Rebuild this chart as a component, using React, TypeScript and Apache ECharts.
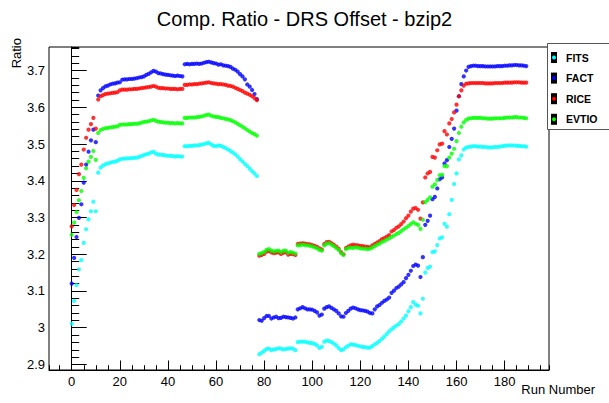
import React, { useEffect, useRef } from "react";
import * as echarts from "echarts";

const runs: number[] = Array.from({ length: 190 }, (_, i) => i);

const fits: number[] = [
  3.011, 3.073, 3.116, 3.159, 3.184, 3.231, 3.268, 3.295, 3.317, 3.343, 3.317,
  3.422, 3.436, 3.441, 3.445, 3.447, 3.449, 3.451, 3.452, 3.454, 3.458,
  3.46, 3.46, 3.461, 3.461, 3.462, 3.462, 3.463, 3.465, 3.467, 3.47,
  3.472, 3.474, 3.477, 3.479, 3.474, 3.471, 3.471, 3.47, 3.469, 3.468,
  3.468, 3.467, 3.466, 3.467, 3.466, 3.466,
  3.494, 3.494, 3.495, 3.495, 3.496, 3.496, 3.497, 3.498, 3.5, 3.502,
  3.503, 3.499, 3.495, 3.494, 3.496, 3.495, 3.492, 3.489, 3.485, 3.481,
  3.477, 3.472, 3.466, 3.459, 3.453, 3.446, 3.44, 3.433, 3.426, 3.42, 3.413,
  2.928, 2.932, 2.937, 2.942, 2.943, 2.939, 2.941, 2.942, 2.944, 2.943, 2.941, 2.942, 2.943, 2.944, 2.943, 2.939,
  2.961, 2.962, 2.962, 2.962, 2.96, 2.959, 2.958, 2.956, 2.952, 2.945, 2.948,
  2.962, 2.965, 2.964, 2.961, 2.957, 2.952, 2.945, 2.939, 2.941, 2.947, 2.951,
  2.955, 2.954, 2.953, 2.951, 2.949, 2.948, 2.947, 2.946, 2.946, 2.95,
  2.955, 2.959, 2.964, 2.97, 2.976, 2.983, 2.99, 2.996, 3.001, 3.006,
  3.01, 3.017, 3.025, 3.033, 3.045, 3.056, 3.07, 3.063, 3.06, 3.039,
  3.079, 3.15, 3.163, 3.166, 3.206, 3.208, 3.225, 3.243, 3.246, 3.283,
  3.275, 3.309, 3.348, 3.391, 3.42, 3.458, 3.469, 3.485, 3.49, 3.492,
  3.493, 3.494, 3.494, 3.493, 3.493, 3.492, 3.492, 3.491, 3.491, 3.491, 3.492, 3.492,
  3.493, 3.494, 3.495, 3.496, 3.496, 3.496, 3.496, 3.495, 3.495, 3.494, 3.494, 3.493,
];

const fact: number[] = [
  3.12, 3.19, 3.247, 3.299, 3.336, 3.395, 3.444, 3.479, 3.51, 3.539, 3.505,
  3.632, 3.646, 3.652, 3.657, 3.659, 3.662, 3.664, 3.665, 3.667, 3.668,
  3.675, 3.676, 3.676, 3.677, 3.677, 3.678, 3.679, 3.681, 3.682, 3.684,
  3.688, 3.691, 3.695, 3.699, 3.697, 3.693, 3.692, 3.69, 3.689, 3.688,
  3.687, 3.686, 3.685, 3.686, 3.685, 3.684,
  3.717, 3.718, 3.717, 3.718, 3.718, 3.719, 3.718, 3.719, 3.721, 3.723,
  3.724, 3.722, 3.72, 3.719, 3.716, 3.717, 3.714, 3.713, 3.712, 3.71,
  3.705, 3.702, 3.697, 3.69, 3.684, 3.676, 3.662, 3.656, 3.647, 3.636, 3.622,
  3.021, 3.019, 3.026, 3.032, 3.032, 3.025, 3.028, 3.03, 3.026, 3.027, 3.03, 3.029, 3.028, 3.027, 3.025, 3.028,
  3.05, 3.053, 3.056, 3.053, 3.05, 3.05, 3.049, 3.046, 3.042, 3.033, 3.036,
  3.052, 3.056, 3.058, 3.054, 3.05, 3.046, 3.039, 3.031, 3.03, 3.04, 3.046,
  3.052, 3.055, 3.053, 3.05, 3.048, 3.047, 3.046, 3.044, 3.04, 3.039,
  3.05, 3.058, 3.062, 3.068, 3.073, 3.077, 3.082, 3.095, 3.101, 3.108,
  3.112, 3.118, 3.124, 3.135, 3.144, 3.155, 3.168, 3.172, 3.169, 3.138,
  3.192, 3.28, 3.291, 3.305, 3.35, 3.356, 3.379, 3.404, 3.409, 3.447,
  3.456, 3.492, 3.514, 3.542, 3.591, 3.63, 3.663, 3.684, 3.7, 3.71,
  3.712, 3.713, 3.713, 3.712, 3.712, 3.712, 3.711, 3.711, 3.711, 3.711, 3.711, 3.712,
  3.712, 3.712, 3.713, 3.713, 3.714, 3.714, 3.715, 3.715, 3.714, 3.714, 3.713, 3.712,
];

const rice: number[] = [
  3.276, 3.334, 3.375, 3.418, 3.444, 3.485, 3.517, 3.539, 3.554, 3.571, 3.542,
  3.621, 3.63, 3.633, 3.636, 3.637, 3.638, 3.639, 3.64, 3.641, 3.646,
  3.648, 3.648, 3.648, 3.649, 3.649, 3.65, 3.65, 3.651, 3.652, 3.653,
  3.654, 3.655, 3.656, 3.658, 3.656, 3.653, 3.652, 3.652, 3.651, 3.651,
  3.65, 3.65, 3.65, 3.649, 3.65, 3.65,
  3.661, 3.661, 3.662, 3.662, 3.663, 3.663, 3.664, 3.665, 3.666, 3.667,
  3.668, 3.666, 3.665, 3.664, 3.663, 3.663, 3.662, 3.661, 3.659, 3.658,
  3.656, 3.653, 3.65, 3.647, 3.644, 3.64, 3.637, 3.634, 3.63, 3.625, 3.619,
  3.196, 3.198, 3.201, 3.207, 3.209, 3.205, 3.203, 3.204, 3.205, 3.201, 3.204, 3.205, 3.199, 3.201, 3.2, 3.198,
  3.228, 3.229, 3.23, 3.229, 3.228, 3.227, 3.225, 3.223, 3.22, 3.216, 3.213,
  3.228, 3.233, 3.234, 3.23, 3.226, 3.221, 3.215, 3.206, 3.2, 3.217, 3.221,
  3.224, 3.226, 3.225, 3.224, 3.223, 3.222, 3.221, 3.22, 3.219, 3.224,
  3.228, 3.232, 3.236, 3.241, 3.244, 3.248, 3.252, 3.262, 3.266, 3.272,
  3.276, 3.282, 3.289, 3.298, 3.305, 3.316, 3.324, 3.326, 3.321, 3.297,
  3.341, 3.409, 3.42, 3.424, 3.465, 3.463, 3.483, 3.499, 3.501, 3.535,
  3.526, 3.556, 3.568, 3.586, 3.607, 3.63, 3.646, 3.659, 3.664, 3.665,
  3.666, 3.666, 3.666, 3.666, 3.666, 3.666, 3.665, 3.665, 3.665, 3.665, 3.666, 3.666,
  3.666, 3.666, 3.667, 3.667, 3.667, 3.667, 3.668, 3.668, 3.668, 3.667, 3.667, 3.667,
];

const evtio: number[] = [
  3.253, 3.286, 3.315, 3.347, 3.372, 3.408, 3.434, 3.452, 3.465, 3.481, 3.457,
  3.53, 3.538, 3.541, 3.543, 3.544, 3.545, 3.546, 3.547, 3.548, 3.552,
  3.553, 3.553, 3.553, 3.554, 3.554, 3.555, 3.555, 3.556, 3.558, 3.56,
  3.561, 3.562, 3.564, 3.566, 3.563, 3.561, 3.56, 3.559, 3.558, 3.558,
  3.557, 3.557, 3.556, 3.557, 3.556, 3.556,
  3.571, 3.571, 3.572, 3.572, 3.572, 3.573, 3.574, 3.575, 3.577, 3.579,
  3.58, 3.577, 3.575, 3.574, 3.573, 3.571, 3.57, 3.568, 3.567, 3.565,
  3.562, 3.559, 3.555, 3.551, 3.547, 3.543, 3.538, 3.534, 3.53, 3.527, 3.523,
  3.201, 3.203, 3.206, 3.212, 3.214, 3.21, 3.208, 3.209, 3.21, 3.206, 3.209, 3.21, 3.204, 3.206, 3.204, 3.202,
  3.224, 3.225, 3.226, 3.225, 3.224, 3.223, 3.221, 3.219, 3.216, 3.212, 3.21,
  3.224, 3.229, 3.23, 3.226, 3.222, 3.217, 3.212, 3.203, 3.198, 3.214, 3.217,
  3.218, 3.217, 3.219, 3.218, 3.216, 3.215, 3.215, 3.214, 3.215, 3.218,
  3.222, 3.226, 3.229, 3.233, 3.236, 3.24, 3.243, 3.247, 3.251, 3.255,
  3.258, 3.263, 3.268, 3.272, 3.277, 3.282, 3.287, 3.283, 3.28, 3.269,
  3.294, 3.342, 3.348, 3.355, 3.384, 3.39, 3.402, 3.415, 3.416, 3.44,
  3.44, 3.463, 3.474, 3.487, 3.508, 3.53, 3.547, 3.559, 3.566, 3.569,
  3.57, 3.571, 3.571, 3.571, 3.571, 3.57, 3.57, 3.569, 3.569, 3.569, 3.57, 3.57,
  3.57, 3.57, 3.571, 3.572, 3.572, 3.572, 3.573, 3.573, 3.572, 3.572, 3.571, 3.57,
];

const seriesNames = ["FITS", "FACT", "RICE", "EVTIO"];
const seriesValues = [fits, fact, rice, evtio];
const seriesColors = ["#00ffff", "#0000ff", "#ff0000", "#00ff00"];

const titleText = "Comp. Ratio - DRS Offset - bzip2";
const xName = "Run Number";
const yName = "Ratio";

const FONT = "'Liberation Sans', Arial, Helvetica, sans-serif";

export default function App() {
  const ref = useRef<HTMLDivElement>(null);

  useEffect(() => {
    if (!ref.current) return;
    const chart = echarts.init(ref.current, undefined, { renderer: "svg" });

    const xMin = -9.45, xMax = 198.45;
    const yMin = 2.885, yMax = 3.764;

    const legendItems: any[] = [
      {
        type: "rect",
        shape: { x: 547.5, y: 43.5, width: 70, height: 86 },
        style: { fill: "#ffffff", stroke: "#555555", lineWidth: 1 },
      },
    ];
    seriesNames.forEach((name, i) => {
      const cy = 57.5 + 20.6 * i;
      legendItems.push({
        type: "rect",
        shape: { x: 551, y: cy - 5.5, width: 6, height: 11 },
        style: { fill: "#000000" },
      });
      legendItems.push({
        type: "circle",
        shape: { cx: 554, cy: cy, r: 2 },
        style: { fill: seriesColors[i] },
      });
      legendItems.push({
        type: "text",
        x: 566,
        y: cy,
        style: {
          text: name,
          fill: "#000",
          font: `bold 10.5px ${FONT}`,
          verticalAlign: "middle",
          align: "left",
        },
      });
    });

    const option: any = {
      animation: false,
      backgroundColor: "#ffffff",
      title: {
        text: titleText,
        left: "center",
        top: 9,
        padding: 0,
        textStyle: { fontFamily: FONT, fontSize: 20, fontWeight: "normal", color: "#000" },
      },
      grid: {
        left: 49,
        right: 60,
        top: 47,
        bottom: 33,
        show: true,
        borderColor: "#000",
        borderWidth: 1,
        backgroundColor: "transparent",
      },
      xAxis: [
        {
          type: "value",
          min: xMin,
          max: xMax,
          splitNumber: 10,
          minInterval: 20,
          maxInterval: 20,
          position: "bottom",
          axisLine: { lineStyle: { color: "#000" } },
          axisTick: { inside: true, length: 9.5, lineStyle: { color: "#000" } },
          axisLabel: {
            color: "#000",
            fontSize: 13,
            fontFamily: FONT,
            margin: 5,
            showMinLabel: false,
            showMaxLabel: false,
          },
          splitLine: { show: false },
          name: xName,
          nameLocation: "end",
          nameGap: 0,
          nameTextStyle: {
            color: "#000",
            fontSize: 13,
            fontFamily: FONT,
            align: "right",
            verticalAlign: "top",
            padding: [13, 0, 0, 0],
          },
        },
        {
          type: "value",
          min: xMin,
          max: xMax,
          splitNumber: 40,
          minInterval: 5,
          maxInterval: 5,
          position: "bottom",
          axisLine: { show: false },
          axisTick: { inside: true, length: 4.8, lineStyle: { color: "#000" } },
          axisLabel: { show: false },
          splitLine: { show: false },
        },
      ],
      yAxis: [
        {
          type: "value",
          min: yMin,
          max: yMax,
          splitNumber: 8,
          minInterval: 0.1,
          maxInterval: 0.1,
          position: "left",
          axisLine: { show: true, lineStyle: { color: "#000" } },
          axisTick: { show: true, inside: true, length: 15, lineStyle: { color: "#000" } },
          axisLabel: {
            color: "#000",
            fontSize: 13,
            fontFamily: FONT,
            margin: 4,
            showMinLabel: false,
            showMaxLabel: false,
          },
          splitLine: { show: false },
        },
        {
          type: "value",
          min: yMin,
          max: yMax,
          splitNumber: 40,
          minInterval: 0.02,
          maxInterval: 0.02,
          position: "left",
          axisLine: { show: false },
          axisTick: { show: true, inside: true, length: 7.5, lineStyle: { color: "#000" } },
          axisLabel: { show: false },
          splitLine: { show: false },
        },
      ],
      graphic: [
        {
          type: "text",
          x: 16,
          y: 38,
          rotation: Math.PI / 2,
          z: 100,
          style: {
            text: yName,
            fill: "#000",
            font: `13px ${FONT}`,
            align: "right",
            verticalAlign: "middle",
          },
        },
        { type: "group", z: 100, children: legendItems },
      ],
      series: seriesNames.map((name, i) => ({
        name,
        type: "scatter",
        xAxisIndex: 0,
        yAxisIndex: 0,
        symbol: "circle",
        symbolSize: 4.2,
        itemStyle: { color: seriesColors[i] },
        data: runs.map((r, j) => [r, seriesValues[i][j]]),
        z: 2 + i,
      })),
    };

    chart.setOption(option);
    return () => chart.dispose();
  }, []);

  return (
    <div
      ref={ref}
      style={{ position: "fixed", left: 0, top: 0, width: 609, height: 403, background: "#fff" }}
    />
  );
}
